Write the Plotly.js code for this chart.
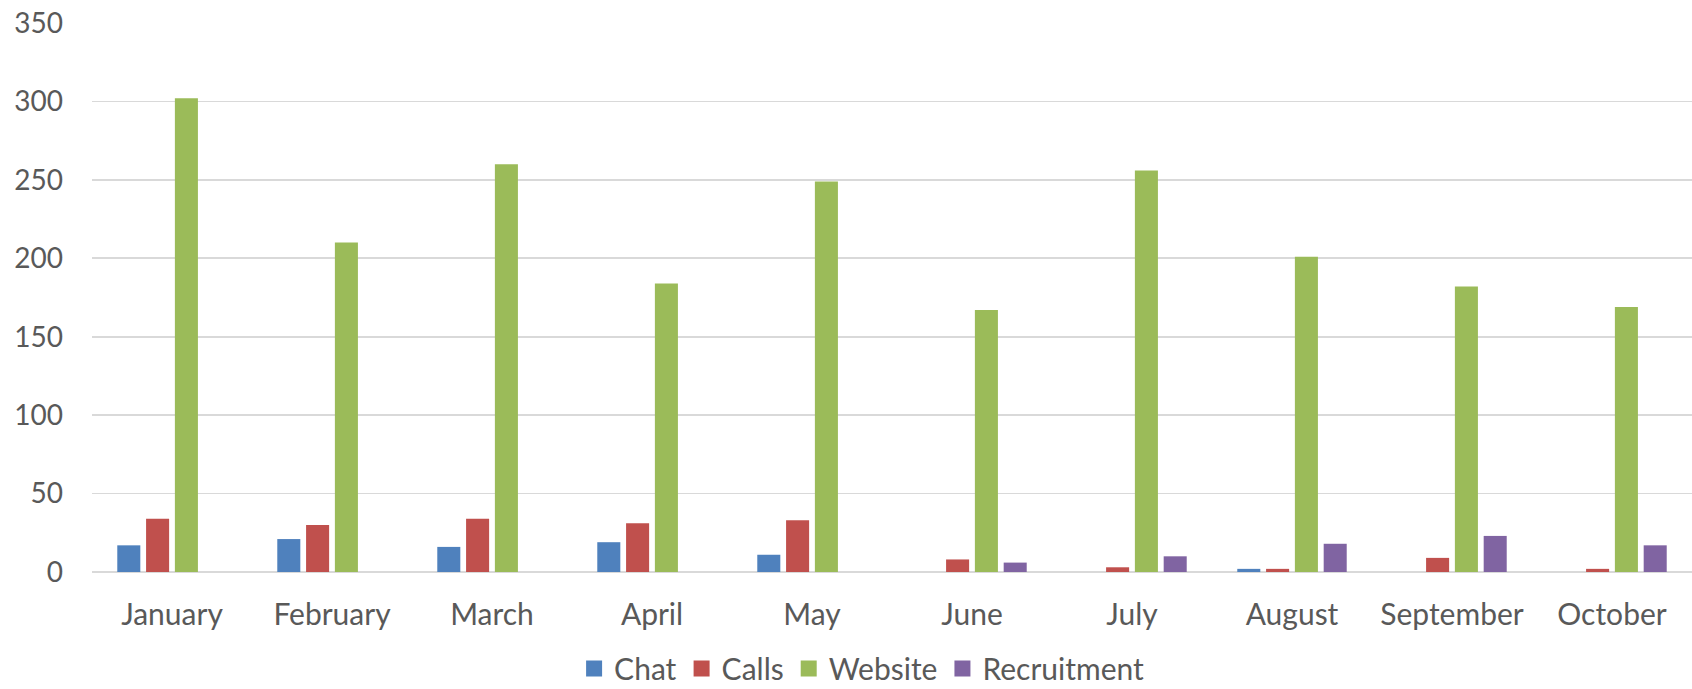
<!DOCTYPE html>
<html>
<head>
<meta charset="utf-8">
<script src="https://cdn.plot.ly/plotly-3.0.1.min.js"></script>
<style>
  html, body { margin: 0; padding: 0; background: #fff; }
  #chart { width: 1692px; height: 689px; }
</style>
</head>
<body>
<div id="chart"></div>
<script>
const months = ["January", "February", "March", "April", "May", "June", "July", "August", "September", "October"];
const chat = [17, 21, 16, 19, 11, 0, 0, 2, 0, 0];
const calls = [34, 30, 34, 31, 33, 8, 3, 2, 9, 2];
const website = [302, 210, 260, 184, 249, 167, 256, 201, 182, 169];
const recruitment = [0, 0, 0, 0, 0, 6, 10, 18, 23, 17];
const yTicks = [0, 50, 100, 150, 200, 250, 300, 350];

const seriesNames = ["Chat", "Calls", "Website", "Recruitment"];
const seriesValues = [chat, calls, website, recruitment];
const seriesColors = ["#4F81BD", "#C0504D", "#9BBB59", "#8064A2"];

const FONT = "Lato, 'Open Sans', sans-serif";
const TEXT = "#595959";

const traces = [];
seriesNames.forEach((name, i) => {
  traces.push({
    type: "bar",
    name: name,
    x: months,
    y: seriesValues[i],
    legendgroup: name,
    showlegend: false,
    marker: { color: seriesColors[i], line: { width: 0 } },
    hoverinfo: "x+y+name"
  });
});
seriesNames.forEach((name, i) => {
  traces.push({
    type: "scatter",
    mode: "markers",
    name: name,
    x: [null],
    y: [null],
    legendgroup: name,
    showlegend: true,
    marker: { symbol: "square", size: 16, color: seriesColors[i] },
    hoverinfo: "skip"
  });
});

const layout = {
  width: 1692,
  height: 689,
  margin: { l: 92, r: 0, t: 23, b: 117, autoexpand: false },
  paper_bgcolor: "#ffffff",
  plot_bgcolor: "#ffffff",
  barmode: "group",
  bargap: 0.28,
  bargroupgap: 0.2,
  font: { family: FONT, color: TEXT, size: 28 },
  xaxis: {
    type: "category",
    categoryorder: "array",
    categoryarray: months,
    showgrid: false,
    showline: false,
    zeroline: false,
    automargin: false,
    ticks: "",
    ticklabelstandoff: 22,
    tickfont: { family: FONT, size: 30, color: TEXT },
    fixedrange: true
  },
  yaxis: {
    range: [0, 350],
    tickmode: "array",
    tickvals: yTicks,
    ticktext: yTicks.map(String),
    showgrid: true,
    gridcolor: "#D9D9D9",
    gridwidth: 1.6,
    zeroline: true,
    zerolinecolor: "#D9D9D9",
    zerolinewidth: 2.6,
    showline: false,
    automargin: false,
    ticks: "",
    ticklabelstandoff: 28,
    tickfont: { family: FONT, size: 28, color: TEXT },
    fixedrange: true
  },
  showlegend: true,
  legend: {
    orientation: "h",
    x: 0.481,
    xref: "paper",
    xanchor: "center",
    y: -0.176,
    yref: "paper",
    yanchor: "middle",
    font: { family: FONT, size: 30, color: TEXT },
    itemwidth: 30,
    tracegroupgap: 0,
    bgcolor: "rgba(0,0,0,0)"
  }
};

Plotly.newPlot("chart", traces, layout, { displayModeBar: false, staticPlot: true });
</script>
</body>
</html>
